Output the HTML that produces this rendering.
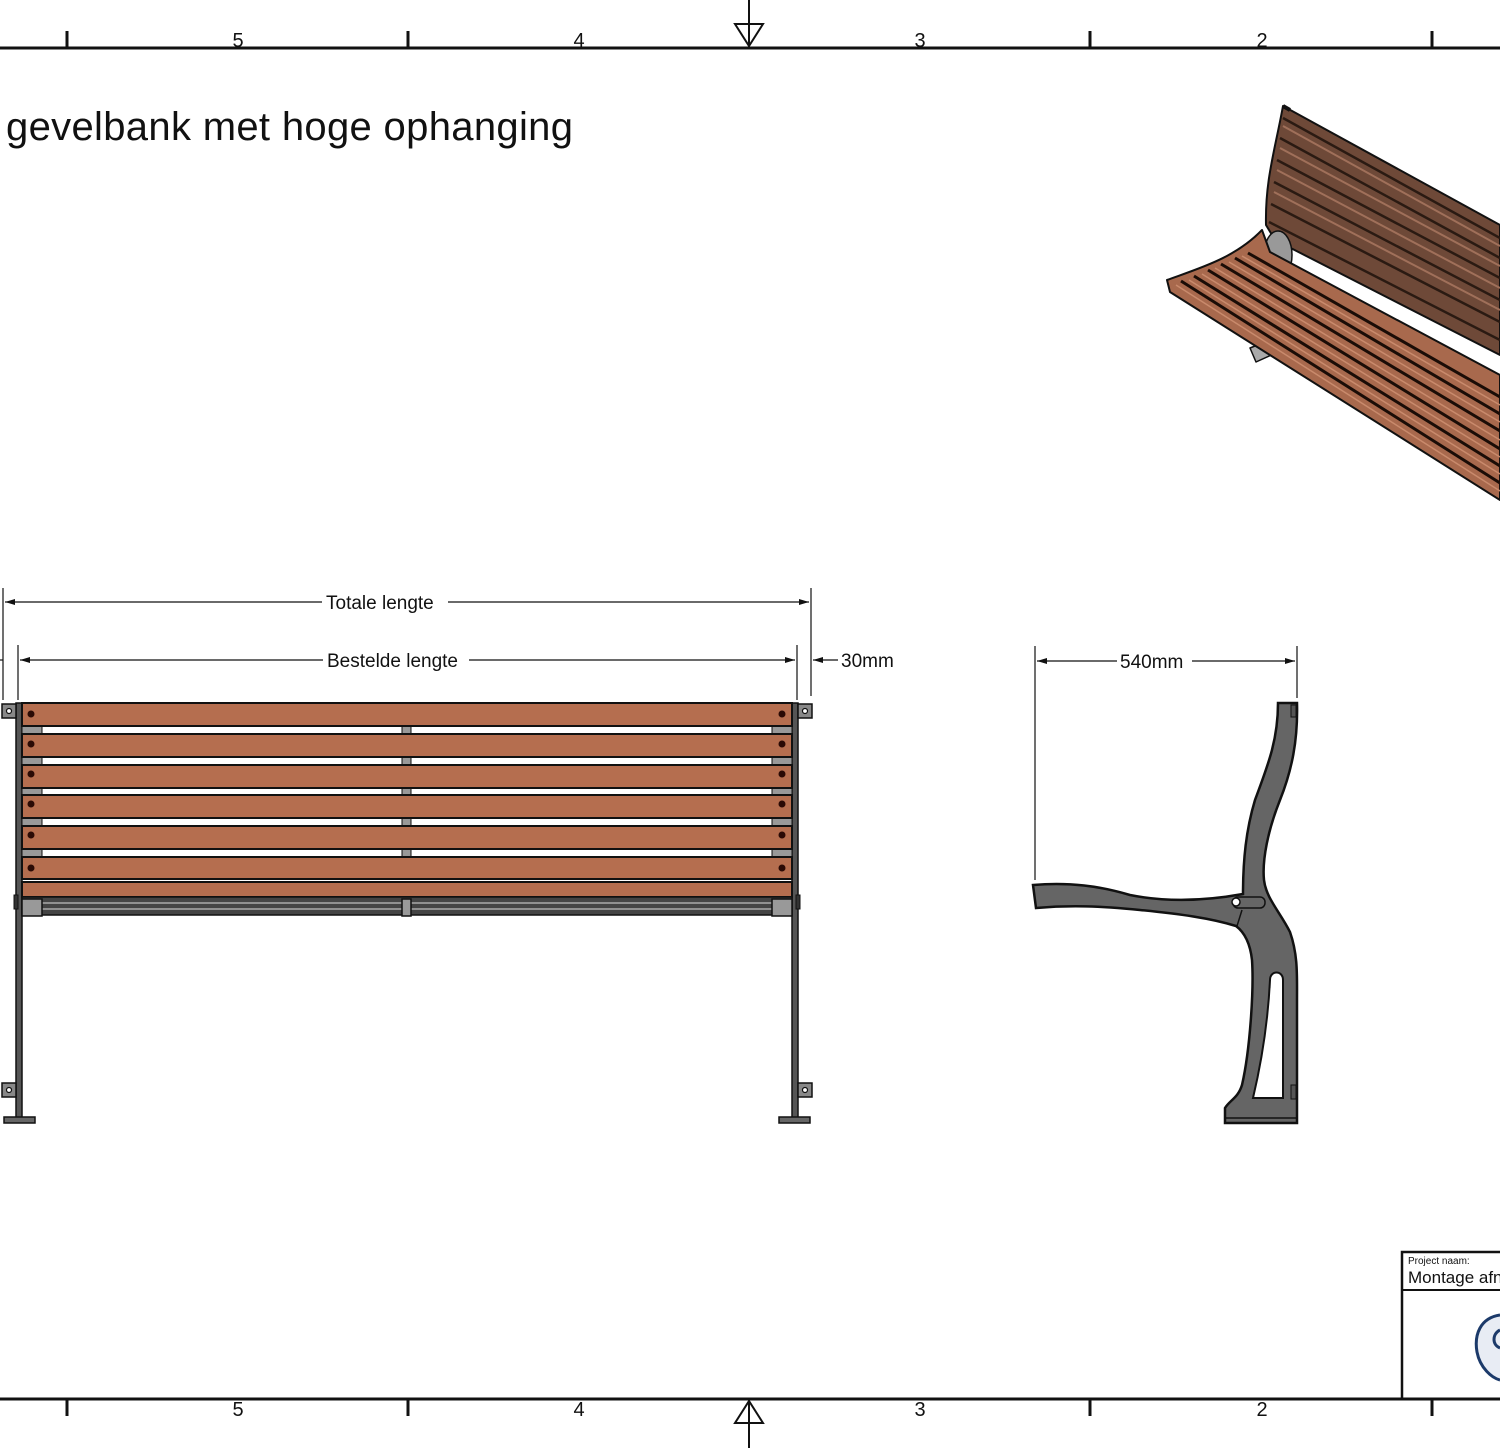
<!DOCTYPE html>
<html><head><meta charset="utf-8"><style>
html,body{margin:0;padding:0;background:#fff;}
svg{display:block;}
text{font-family:"Liberation Sans","DejaVu Sans",sans-serif;fill:#111;}
</style></head><body>
<svg width="1500" height="1448" viewBox="0 0 1500 1448" xmlns="http://www.w3.org/2000/svg">
<defs>
<marker id="ar" markerWidth="10" markerHeight="6" refX="10" refY="3" orient="auto" markerUnits="userSpaceOnUse"><path d="M0,0 L10,3 L0,6 Z" fill="#111"/></marker>
</defs>
<g stroke="#111" stroke-width="3" fill="none">
<line x1="0" y1="48" x2="1500" y2="48"/>
<line x1="0" y1="1399" x2="1500" y2="1399"/>
<line x1="67" y1="31" x2="67" y2="48"/><line x1="408" y1="31" x2="408" y2="48"/><line x1="1090" y1="31" x2="1090" y2="48"/><line x1="1432" y1="31" x2="1432" y2="48"/>
<line x1="67" y1="1399" x2="67" y2="1416"/><line x1="408" y1="1399" x2="408" y2="1416"/><line x1="1090" y1="1399" x2="1090" y2="1416"/><line x1="1432" y1="1399" x2="1432" y2="1416"/>
<line x1="749" y1="0" x2="749" y2="48" stroke-width="2"/>
<path d="M735,24 L763,24 L749,46 Z" stroke-width="2"/>
<line x1="749" y1="1399" x2="749" y2="1448" stroke-width="2"/>
<path d="M735,1423 L763,1423 L749,1401 Z" stroke-width="2"/>
</g>
<g font-size="20" text-anchor="middle">
<text x="238" y="47">5</text><text x="579" y="47">4</text><text x="920" y="47">3</text><text x="1262" y="47">2</text>
<text x="238" y="1416">5</text><text x="579" y="1416">4</text><text x="920" y="1416">3</text><text x="1262" y="1416">2</text>
</g>
<text x="6" y="140" font-size="40" textLength="567">gevelbank met hoge ophanging</text>

<g stroke="#111" stroke-width="1.2" fill="none">
<line x1="3" y1="588" x2="3" y2="700"/><line x1="811" y1="588" x2="811" y2="696"/>
<line x1="18" y1="645" x2="18" y2="700"/><line x1="797" y1="645" x2="797" y2="700"/>
<line x1="0" y1="660" x2="3" y2="660"/>
<line x1="322" y1="602" x2="5" y2="602" marker-end="url(#ar)"/>
<line x1="448" y1="602" x2="809" y2="602" marker-end="url(#ar)"/>
<line x1="323" y1="660" x2="20" y2="660" marker-end="url(#ar)"/>
<line x1="469" y1="660" x2="795" y2="660" marker-end="url(#ar)"/>
<line x1="838" y1="660" x2="813" y2="660" marker-end="url(#ar)"/>
<line x1="1035" y1="646" x2="1035" y2="880"/><line x1="1297" y1="646" x2="1297" y2="698"/>
<line x1="1117" y1="661" x2="1037" y2="661" marker-end="url(#ar)"/>
<line x1="1192" y1="661" x2="1295" y2="661" marker-end="url(#ar)"/>
</g>
<g font-size="19">
<text x="326" y="609">Totale lengte</text>
<text x="327" y="667">Bestelde lengte</text>
<text x="841" y="667">30mm</text>
<text x="1120" y="668">540mm</text>
</g>

<g stroke="#111">
<rect x="16" y="703" width="6" height="415" fill="#555" stroke-width="1.5"/>
<rect x="792" y="703" width="6" height="415" fill="#555" stroke-width="1.5"/>
<rect x="4" y="1117" width="31" height="6" fill="#666" stroke-width="1.5"/>
<rect x="779" y="1117" width="31" height="6" fill="#666" stroke-width="1.5"/>
<g fill="#888" stroke-width="1.5">
<rect x="2" y="704" width="14" height="14"/><rect x="798" y="704" width="14" height="14"/>
<rect x="2" y="1083" width="14" height="14"/><rect x="798" y="1083" width="14" height="14"/>
</g>
<g fill="#fff" stroke-width="1.2">
<circle cx="9" cy="711" r="2.5"/><circle cx="805" cy="711" r="2.5"/><circle cx="9" cy="1090" r="2.5"/><circle cx="805" cy="1090" r="2.5"/>
</g>
<g fill="#999" stroke-width="1">
<rect x="22" y="726" width="20" height="8"/><rect x="772" y="726" width="20" height="8"/><rect x="402" y="726" width="9" height="8"/>
<rect x="22" y="757" width="20" height="8"/><rect x="772" y="757" width="20" height="8"/><rect x="402" y="757" width="9" height="8"/>
<rect x="22" y="788" width="20" height="7"/><rect x="772" y="788" width="20" height="7"/><rect x="402" y="788" width="9" height="7"/>
<rect x="22" y="818" width="20" height="8"/><rect x="772" y="818" width="20" height="8"/><rect x="402" y="818" width="9" height="8"/>
<rect x="22" y="849" width="20" height="8"/><rect x="772" y="849" width="20" height="8"/><rect x="402" y="849" width="9" height="8"/>
</g>
<g fill="#b56e4f" stroke-width="2">
<rect x="22" y="703" width="770" height="23"/>
<rect x="22" y="734" width="770" height="23"/>
<rect x="22" y="765" width="770" height="23"/>
<rect x="22" y="795" width="770" height="23"/>
<rect x="22" y="826" width="770" height="23"/>
<rect x="22" y="857" width="770" height="22"/>
<rect x="22" y="882" width="770" height="15"/>
</g>
<rect x="22" y="897" width="770" height="18" fill="#444" stroke-width="1.5"/>
<line x1="22" y1="903" x2="792" y2="903" stroke="#aaa" stroke-width="1.5"/>
<line x1="22" y1="909" x2="792" y2="909" stroke="#aaa" stroke-width="1.5"/>
<rect x="22" y="899" width="20" height="17" fill="#999" stroke-width="1.5"/>
<rect x="772" y="899" width="20" height="17" fill="#999" stroke-width="1.5"/>
<rect x="402" y="899" width="9" height="17" fill="#999" stroke-width="1.5"/>
<rect x="14" y="895" width="4" height="14" fill="#333" stroke-width="1"/>
<rect x="796" y="895" width="4" height="14" fill="#333" stroke-width="1"/>
</g>
<g fill="#2a0a05">
<circle cx="31" cy="714" r="3.5"/><circle cx="782" cy="714" r="3.5"/>
<circle cx="31" cy="744" r="3.5"/><circle cx="782" cy="744" r="3.5"/>
<circle cx="31" cy="774" r="3.5"/><circle cx="782" cy="774" r="3.5"/>
<circle cx="31" cy="804" r="3.5"/><circle cx="782" cy="804" r="3.5"/>
<circle cx="31" cy="835" r="3.5"/><circle cx="782" cy="835" r="3.5"/>
<circle cx="31" cy="868" r="3.5"/><circle cx="782" cy="868" r="3.5"/>
</g>

<path d="M1278,703 L1297,703 C1298,740 1292,770 1280,800 C1268,830 1262,860 1264,880 C1266,898 1280,912 1290,932 C1298,955 1297,975 1297,1000 L1297,1123 L1225,1123 L1225,1108 C1230,1100 1238,1098 1242,1085 C1250,1050 1254,990 1252,960 C1250,942 1244,932 1236,926 C1210,918 1180,914 1140,910 C1100,906 1070,905 1036,908 L1033,885 C1070,882 1100,886 1130,895 C1170,903 1210,900 1243,894 C1243,860 1246,830 1255,800 C1268,765 1278,740 1278,703 Z" fill="#656565" stroke="#111" stroke-width="2.5"/>
<path d="M1270,980 C1270,970 1283,970 1283,980 L1283,1098 L1253,1098 C1262,1060 1268,1020 1270,980 Z" fill="#fff" stroke="#111" stroke-width="2"/>
<rect x="1233" y="897" width="32" height="11" rx="5" fill="#666" stroke="#111" stroke-width="1.5"/>
<circle cx="1236" cy="902" r="4" fill="#fff" stroke="#111" stroke-width="1.5"/>
<line x1="1242" y1="910" x2="1237" y2="926" stroke="#111" stroke-width="1.5"/>
<rect x="1291" y="705" width="5" height="12" fill="#555" stroke="#111" stroke-width="1"/>
<rect x="1291" y="1085" width="5" height="14" fill="#555" stroke="#111" stroke-width="1"/>
<line x1="1225" y1="1118" x2="1297" y2="1118" stroke="#111" stroke-width="1.5"/>

<g stroke="#111" stroke-linejoin="round">
<path d="M1283,106 C1275,150 1265,180 1266,225 L1275,240 L1500,355 L1500,225 Z" fill="#6e4938" stroke-width="2"/>
<g stroke="#2a1a12" stroke-width="2.5" fill="none">
<path d="M1283,118 L1500,238"/><path d="M1280,138 L1500,258"/><path d="M1277,160 L1500,278"/><path d="M1274,182 L1500,300"/><path d="M1271,204 L1500,322"/><path d="M1269,222 L1500,340"/>
</g>
<g stroke="#a0705a" stroke-width="2" fill="none">
<path d="M1283,126 L1500,246"/><path d="M1280,148 L1500,266"/><path d="M1277,170 L1500,288"/><path d="M1274,192 L1500,310"/>
</g>
<ellipse cx="1278" cy="255" rx="14" ry="24" fill="#999" stroke-width="1.5"/>
<path d="M1250,348 L1270,340 L1278,352 L1256,362 Z" fill="#aaa" stroke-width="1.5"/>
<path d="M1167,280 C1200,268 1235,258 1262,230 L1270,252 L1500,375 L1500,500 L1170,292 Z" fill="#a8694d" stroke-width="2"/>
<g stroke="#1a0c06" stroke-width="3" fill="none">
<path d="M1181,281 L1500,483"/><path d="M1194,276 L1500,466"/><path d="M1208,270 L1500,449"/><path d="M1221,264 L1500,431"/><path d="M1235,258 L1500,414"/><path d="M1248,253 L1500,397"/>
</g>
<g stroke="#c98a6c" stroke-width="1.5" fill="none">
<path d="M1176,285 L1500,491"/><path d="M1189,280 L1500,474"/><path d="M1202,274 L1500,457"/><path d="M1215,268 L1500,440"/><path d="M1229,262 L1500,422"/><path d="M1242,256 L1500,405"/>
</g>
<path d="M1283,106 L1290,110" stroke-width="4"/>
</g>

<g stroke="#111" stroke-width="2.5" fill="none">
<path d="M1500,1252 L1402,1252 L1402,1399"/>
<line x1="1402" y1="1290" x2="1500" y2="1290" stroke-width="2"/>
</g>
<text x="1408" y="1264" font-size="10">Project naam:</text>
<text x="1408" y="1283" font-size="17">Montage afn</text>
<path d="M1500,1315 C1480,1318 1474,1335 1477,1352 C1480,1368 1492,1378 1500,1380" fill="#e8ecf4" stroke="#1c3a6a" stroke-width="3"/>
<path d="M1500,1330 C1492,1334 1492,1345 1500,1348" fill="none" stroke="#1c3a6a" stroke-width="3"/>
</svg>
</body></html>
